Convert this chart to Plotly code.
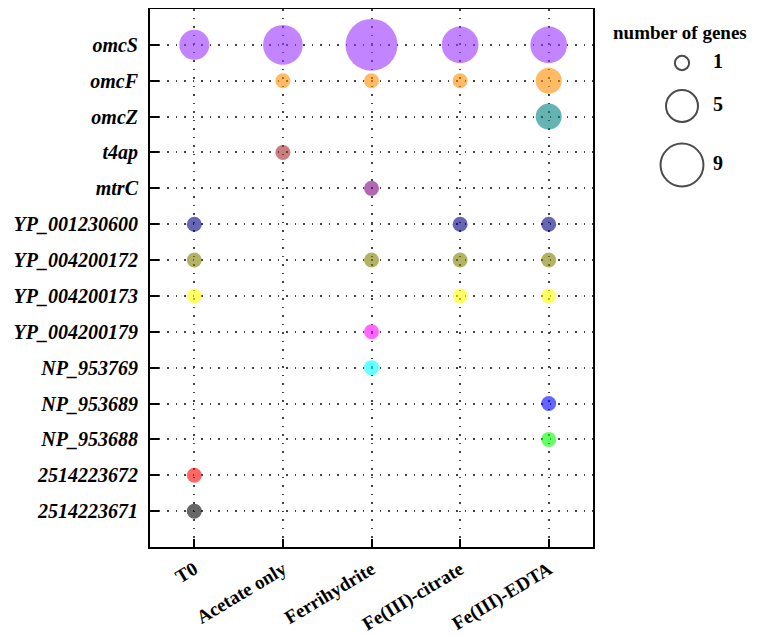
import plotly.graph_objects as go

conditions = ["T0", "Acetate only", "Ferrihydrite", "Fe(III)-citrate", "Fe(III)-EDTA"]
genes = ["omcS", "omcF", "omcZ", "t4ap", "mtrC", "YP_001230600", "YP_004200172",
         "YP_004200173", "YP_004200179", "NP_953769", "NP_953689", "NP_953688",
         "2514223672", "2514223671"]
# number of genes per gene family (rows) and condition (columns)
counts = [
    [4, 7, 12, 6, 6],   # omcS
    [0, 1, 1, 1, 3],    # omcF
    [0, 0, 0, 0, 3],    # omcZ
    [0, 1, 0, 0, 0],    # t4ap
    [0, 0, 1, 0, 0],    # mtrC
    [1, 0, 0, 1, 1],    # YP_001230600
    [1, 0, 1, 1, 1],    # YP_004200172
    [1, 0, 0, 1, 1],    # YP_004200173
    [0, 0, 1, 0, 0],    # YP_004200179
    [0, 0, 1, 0, 0],    # NP_953769
    [0, 0, 0, 0, 1],    # NP_953689
    [0, 0, 0, 0, 1],    # NP_953688
    [1, 0, 0, 0, 0],    # 2514223672
    [1, 0, 0, 0, 0],    # 2514223671
]
colors = ["#9933ff", "#ff8c00", "#008080", "#a52a2a", "#800080", "#000080", "#808000",
          "#ffff00", "#ff00ff", "#00ffff", "#0000ff", "#00ff00", "#ff0000", "#000000"]
legend_values = [1, 5, 9]

SIZEREF = 2 / (15.0 ** 2)
FONT = "Liberation Serif"

fig = go.Figure()
for g, row, c in zip(genes, counts, colors):
    xs = [cond for cond, n in zip(conditions, row) if n > 0]
    ns = [n for n in row if n > 0]
    fig.add_trace(go.Scatter(
        x=xs, y=[g] * len(xs), mode="markers",
        marker=dict(size=ns, sizemode="area", sizeref=SIZEREF, color=c,
                    opacity=0.6, line=dict(width=0)),
        showlegend=False, hoverinfo="x+y+text", text=[str(n) for n in ns]))

# size legend drawn on a helper axis pair (page-pixel-like coordinates)
leg_y = [54, 97, 156]
fig.add_trace(go.Scatter(
    x=[682] * 3, y=leg_y, mode="markers", xaxis="x2", yaxis="y2",
    marker=dict(size=legend_values, sizemode="area", sizeref=SIZEREF * 1.1,
                color="rgba(0,0,0,0)", line=dict(color="black", width=2)),
    showlegend=False, hoverinfo="skip"))
fig.add_trace(go.Scatter(
    x=[718] * 3, y=leg_y, mode="text", xaxis="x2", yaxis="y2",
    text=[str(v) for v in legend_values],
    textfont=dict(family=FONT, size=20, color="black", weight="bold"),
    showlegend=False, hoverinfo="skip"))

fig.add_annotation(x=680, y=23, xref="x2", yref="y2", text="number of genes",
                   showarrow=False,
                   font=dict(family=FONT, size=19, color="black", weight="bold"))

grid = dict(showgrid=True, gridcolor="#444444", gridwidth=1.5, griddash="1.5px,7px")
fig.update_layout(
    width=742, height=627,
    margin=dict(l=142, r=0, t=1, b=88, autoexpand=False),
    plot_bgcolor="white", paper_bgcolor="white",
    xaxis=dict(domain=[0, 443 / 600], type="category", categoryorder="array",
               categoryarray=conditions, range=[-0.5, 4.5], automargin=False,
               showline=True, linecolor="black", linewidth=2, mirror=True,
               ticks="inside", ticklen=8, tickwidth=2, tickcolor="black",
               tickangle=-31, ticklabelstandoff=2,
               tickfont=dict(family=FONT, size=19, color="black", weight="bold"),
               zeroline=False, **grid),
    yaxis=dict(type="category", categoryorder="array", categoryarray=genes,
               range=[14, -1], automargin=False,
               showline=True, linecolor="black", linewidth=2, mirror=True,
               ticks="inside", ticklen=9, tickwidth=2, tickcolor="black",
               ticklabelstandoff=6,
               tickfont=dict(family=FONT, size=20, color="black", weight="bold",
                             style="italic"),
               zeroline=False, **grid),
    xaxis2=dict(domain=[450 / 600, 1], range=[600, 750], visible=False,
                anchor="y2", fixedrange=True, automargin=False),
    yaxis2=dict(domain=[0, 1], range=[538, 0], visible=False, anchor="x2",
                fixedrange=True, automargin=False),
)

fig.write_html("out.html")
